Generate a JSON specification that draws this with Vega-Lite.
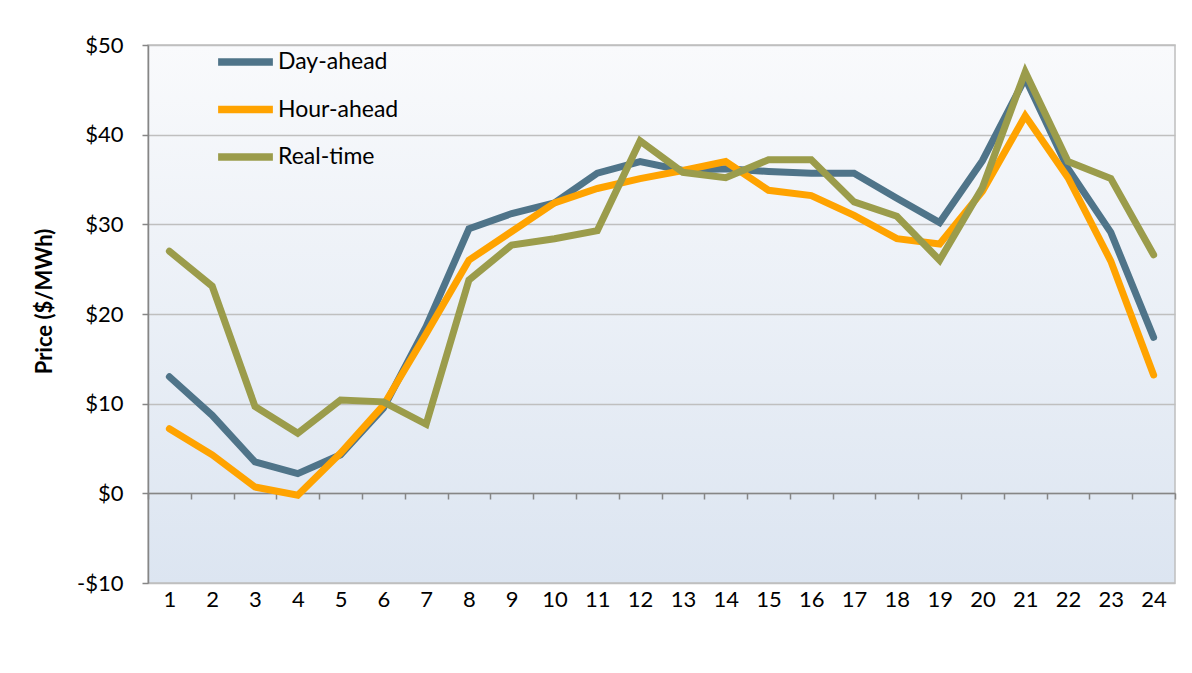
{
  "$schema": "https://vega.github.io/schema/vega-lite/v6.json",
  "width": 1027,
  "height": 538,
  "autosize": {"type": "none"},
  "padding": {"left": 148, "top": 45, "right": 17, "bottom": 90},
  "background": "white",
  "config": {
    "font": "Lato",
    "view": {
      "stroke": "#bfbfbf",
      "strokeWidth": 1.5,
      "fill": {"gradient": "linear", "x1": 0, "y1": 0, "x2": 0, "y2": 1, "stops": [{"offset": 0, "color": "#f9fafc"}, {"offset": 1, "color": "#dce5f1"}]}
    }
  },
  "data": {
    "values": [
      {"hour": 1, "series": "Day-ahead", "price": 13.0},
      {"hour": 2, "series": "Day-ahead", "price": 8.7},
      {"hour": 3, "series": "Day-ahead", "price": 3.5},
      {"hour": 4, "series": "Day-ahead", "price": 2.2},
      {"hour": 5, "series": "Day-ahead", "price": 4.3},
      {"hour": 6, "series": "Day-ahead", "price": 9.5},
      {"hour": 7, "series": "Day-ahead", "price": 18.6},
      {"hour": 8, "series": "Day-ahead", "price": 29.5},
      {"hour": 9, "series": "Day-ahead", "price": 31.2},
      {"hour": 10, "series": "Day-ahead", "price": 32.4},
      {"hour": 11, "series": "Day-ahead", "price": 35.7},
      {"hour": 12, "series": "Day-ahead", "price": 37.0},
      {"hour": 13, "series": "Day-ahead", "price": 36.0},
      {"hour": 14, "series": "Day-ahead", "price": 36.2},
      {"hour": 15, "series": "Day-ahead", "price": 35.9},
      {"hour": 16, "series": "Day-ahead", "price": 35.7},
      {"hour": 17, "series": "Day-ahead", "price": 35.7},
      {"hour": 18, "series": "Day-ahead", "price": 32.9},
      {"hour": 19, "series": "Day-ahead", "price": 30.2},
      {"hour": 20, "series": "Day-ahead", "price": 37.1},
      {"hour": 21, "series": "Day-ahead", "price": 46.3},
      {"hour": 22, "series": "Day-ahead", "price": 36.2},
      {"hour": 23, "series": "Day-ahead", "price": 29.1},
      {"hour": 24, "series": "Day-ahead", "price": 17.4},
      {"hour": 1, "series": "Hour-ahead", "price": 7.2},
      {"hour": 2, "series": "Hour-ahead", "price": 4.3},
      {"hour": 3, "series": "Hour-ahead", "price": 0.7},
      {"hour": 4, "series": "Hour-ahead", "price": -0.2},
      {"hour": 5, "series": "Hour-ahead", "price": 4.5},
      {"hour": 6, "series": "Hour-ahead", "price": 9.8},
      {"hour": 7, "series": "Hour-ahead", "price": 17.8},
      {"hour": 8, "series": "Hour-ahead", "price": 26.0},
      {"hour": 9, "series": "Hour-ahead", "price": 29.2},
      {"hour": 10, "series": "Hour-ahead", "price": 32.4},
      {"hour": 11, "series": "Hour-ahead", "price": 34.0},
      {"hour": 12, "series": "Hour-ahead", "price": 35.1},
      {"hour": 13, "series": "Hour-ahead", "price": 36.0},
      {"hour": 14, "series": "Hour-ahead", "price": 37.0},
      {"hour": 15, "series": "Hour-ahead", "price": 33.8},
      {"hour": 16, "series": "Hour-ahead", "price": 33.2},
      {"hour": 17, "series": "Hour-ahead", "price": 31.0},
      {"hour": 18, "series": "Hour-ahead", "price": 28.4},
      {"hour": 19, "series": "Hour-ahead", "price": 27.8},
      {"hour": 20, "series": "Hour-ahead", "price": 33.7},
      {"hour": 21, "series": "Hour-ahead", "price": 42.1},
      {"hour": 22, "series": "Hour-ahead", "price": 35.2},
      {"hour": 23, "series": "Hour-ahead", "price": 25.9},
      {"hour": 24, "series": "Hour-ahead", "price": 13.2},
      {"hour": 1, "series": "Real-time", "price": 27.0},
      {"hour": 2, "series": "Real-time", "price": 23.1},
      {"hour": 3, "series": "Real-time", "price": 9.7},
      {"hour": 4, "series": "Real-time", "price": 6.7},
      {"hour": 5, "series": "Real-time", "price": 10.4},
      {"hour": 6, "series": "Real-time", "price": 10.2},
      {"hour": 7, "series": "Real-time", "price": 7.7},
      {"hour": 8, "series": "Real-time", "price": 23.8},
      {"hour": 9, "series": "Real-time", "price": 27.7},
      {"hour": 10, "series": "Real-time", "price": 28.4},
      {"hour": 11, "series": "Real-time", "price": 29.3},
      {"hour": 12, "series": "Real-time", "price": 39.3},
      {"hour": 13, "series": "Real-time", "price": 35.8},
      {"hour": 14, "series": "Real-time", "price": 35.2},
      {"hour": 15, "series": "Real-time", "price": 37.2},
      {"hour": 16, "series": "Real-time", "price": 37.2},
      {"hour": 17, "series": "Real-time", "price": 32.5},
      {"hour": 18, "series": "Real-time", "price": 30.9},
      {"hour": 19, "series": "Real-time", "price": 26.0},
      {"hour": 20, "series": "Real-time", "price": 34.1},
      {"hour": 21, "series": "Real-time", "price": 47.0},
      {"hour": 22, "series": "Real-time", "price": 37.0},
      {"hour": 23, "series": "Real-time", "price": 35.1},
      {"hour": 24, "series": "Real-time", "price": 26.6}
    ]
  },
  "mark": {"type": "line", "strokeWidth": 7, "strokeCap": "round", "strokeJoin": "miter"},
  "encoding": {
    "x": {
      "field": "hour",
      "type": "ordinal",
      "bandPosition": 0.5,
      "scale": {"type": "band", "paddingInner": 0, "paddingOuter": 0},
      "axis": {
        "title": null,
        "offset": -90,
        "labelAngle": 0,
        "tickBand": "extent",
        "domainColor": "#868686",
        "domainWidth": 1.5,
        "tickColor": "#868686",
        "tickWidth": 1.5,
        "tickSize": 6,
        "labelPadding": 90,
        "labelFontSize": 22,
        "labelColor": "#000000",
        "labelFont": "Lato",
        "grid": false
      }
    },
    "y": {
      "field": "price",
      "type": "quantitative",
      "scale": {"domain": [-10, 50], "nice": false, "zero": false},
      "axis": {
        "values": [-10, 0, 10, 20, 30, 40, 50],
        "labelExpr": "datum.value < 0 ? '-$' + abs(datum.value) : '$' + datum.value",
        "labelFontSize": 22,
        "labelColor": "#000000",
        "labelFont": "Lato",
        "labelPadding": 19,
        "domainColor": "#868686",
        "domainWidth": 1.5,
        "tickColor": "#868686",
        "tickWidth": 1.5,
        "tickSize": 6,
        "grid": true,
        "gridColor": "#bfbfbf",
        "gridWidth": 1.5,
        "title": "Price ($/MWh)",
        "titleFontSize": 22,
        "titleFont": "Lato",
        "titleFontWeight": "bold",
        "titleColor": "#000000",
        "titleAngle": 270,
        "titleX": -104,
        "titleY": 256,
        "titleAlign": "center",
        "titleBaseline": "middle"
      }
    },
    "color": {
      "field": "series",
      "type": "nominal",
      "scale": {"domain": ["Day-ahead", "Hour-ahead", "Real-time"], "range": ["#4f7489", "#ffa300", "#9b9c4b"]},
      "legend": {
        "title": null,
        "orient": "none",
        "legendX": 66,
        "legendY": 5,
        "padding": 0,
        "symbolType": "stroke",
        "symbolSize": 3000,
        "symbolStrokeWidth": 7.5,
        "clipHeight": 24,
        "rowPadding": 23.5,
        "labelFontSize": 23,
        "labelFont": "Lato",
        "labelColor": "#000000",
        "labelOffset": 1
      }
    }
  }
}
